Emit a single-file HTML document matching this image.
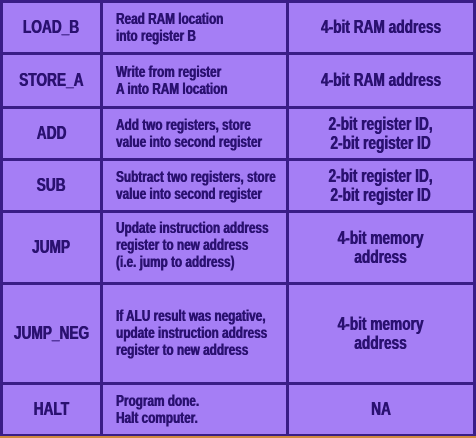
<!DOCTYPE html>
<html><head><style>
body{margin:0;width:476px;height:438px;background:#a57ef5;position:relative;overflow:hidden;font-family:"Liberation Sans",sans-serif;font-weight:700;color:#2a1170}
.h{position:absolute;left:0;width:476px;height:3px;background:#3a1d86}
.v{position:absolute;top:0;width:3px;height:436px;background:#3a1d86}
.c{position:absolute;display:flex;align-items:center;justify-content:center;text-align:center;font-size:18px;line-height:19px}
.c span{display:inline-block;transform:scaleX(0.76);white-space:nowrap;text-shadow:0.5px 0 0 #2a1170,-0.3px 0 0 #2a1170}
.l{justify-content:flex-start;text-align:left;font-size:15.5px;line-height:17px}
.l span{transform-origin:left center;transform:scaleX(0.76)}
</style></head><body>
<div class="h" style="top:0"></div>
<div class="h" style="top:52px"></div>
<div class="h" style="top:106px"></div>
<div class="h" style="top:158px"></div>
<div class="h" style="top:210px"></div>
<div class="h" style="top:282px"></div>
<div class="h" style="top:382px"></div>
<div class="h" style="top:434px"></div>
<div style="position:absolute;left:0;top:436px;width:476px;height:2px;background:#d08a40"></div>
<div class="v" style="left:0"></div>
<div class="v" style="left:100px"></div>
<div class="v" style="left:286px"></div>
<div class="v" style="left:473px"></div>

<div class="c" style="left:3px;width:97px;top:3px;height:49px"><span>LOAD_B</span></div>
<div class="c l" style="left:116px;width:170px;top:3px;height:49px"><span>Read RAM location<br>into register B</span></div>
<div class="c" style="left:289px;width:184px;top:3px;height:49px"><span>4-bit RAM address</span></div>

<div class="c" style="left:3px;width:97px;top:55px;height:51px"><span>STORE_A</span></div>
<div class="c l" style="left:116px;width:170px;top:55px;height:51px"><span>Write from register<br>A into RAM location</span></div>
<div class="c" style="left:289px;width:184px;top:55px;height:51px"><span>4-bit RAM address</span></div>

<div class="c" style="left:3px;width:97px;top:109px;height:49px"><span>ADD</span></div>
<div class="c l" style="left:116px;width:170px;top:109px;height:49px"><span>Add two registers, store<br>value into second register</span></div>
<div class="c" style="left:289px;width:184px;top:109px;height:49px"><span>2-bit register ID,<br>2-bit register ID</span></div>

<div class="c" style="left:3px;width:97px;top:161px;height:49px"><span>SUB</span></div>
<div class="c l" style="left:116px;width:170px;top:161px;height:49px"><span>Subtract two registers, store<br>value into second register</span></div>
<div class="c" style="left:289px;width:184px;top:161px;height:49px"><span>2-bit register ID,<br>2-bit register ID</span></div>

<div class="c" style="left:3px;width:97px;top:213px;height:69px"><span>JUMP</span></div>
<div class="c l" style="left:116px;width:170px;top:213px;height:65px"><span>Update instruction address<br>register to new address<br>(i.e. jump to address)</span></div>
<div class="c" style="left:289px;width:184px;top:213px;height:69px"><span>4-bit memory<br>address</span></div>

<div class="c" style="left:3px;width:97px;top:285px;height:97px"><span>JUMP_NEG</span></div>
<div class="c l" style="left:116px;width:170px;top:285px;height:97px"><span>If ALU result was negative,<br>update instruction address<br>register to new address</span></div>
<div class="c" style="left:289px;width:184px;top:285px;height:97px"><span>4-bit memory<br>address</span></div>

<div class="c" style="left:3px;width:97px;top:385px;height:49px"><span>HALT</span></div>
<div class="c l" style="left:116px;width:170px;top:385px;height:49px"><span>Program done.<br>Halt computer.</span></div>
<div class="c" style="left:289px;width:184px;top:385px;height:49px"><span>NA</span></div>
</body></html>
